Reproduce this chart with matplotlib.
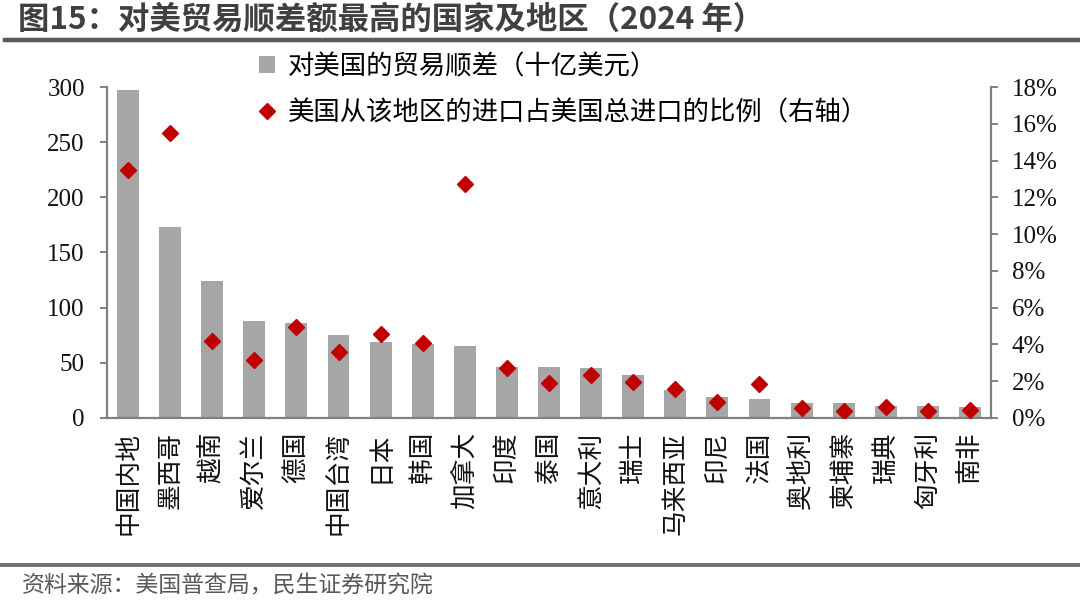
import matplotlib
matplotlib.use("Agg")
import matplotlib.pyplot as plt
from matplotlib.lines import Line2D
from matplotlib.patches import Patch
import numpy as np

categories = ["中国内地", "墨西哥", "越南", "爱尔兰", "德国", "中国台湾", "日本", "韩国", "加拿大",
              "印度", "泰国", "意大利", "瑞士", "马来西亚", "印尼", "法国", "奥地利", "柬埔寨",
              "瑞典", "匈牙利", "南非"]
surplus = [297, 173, 124, 88, 86, 75, 69, 67, 65, 46.5, 46.5, 45, 39, 25.4, 18.7, 17.2,
           13.9, 13.3, 10.6, 10.6, 9.7]
import_share = [13.5, 15.5, 4.2, 3.15, 4.93, 3.57, 4.57, 4.06, 12.7, 2.7, 1.92, 2.35, 1.94,
                1.6, 0.87, 1.85, 0.56, 0.4, 0.58, 0.4, 0.43]
left_ticks = [0, 50, 100, 150, 200, 250, 300]
right_ticks = [0, 2, 4, 6, 8, 10, 12, 14, 16, 18]

title = "图15：对美贸易顺差额最高的国家及地区（2024 年）"
source = "资料来源：美国普查局，民生证券研究院"
legend_bar = "对美国的贸易顺差（十亿美元）"
legend_pt = "美国从该地区的进口占美国总进口的比例（右轴）"

CJK = ["Noto Sans CJK SC", "DejaVu Sans"]
SERIF = ["Liberation Serif", "Noto Sans CJK SC"]

W, H = 1080, 605
fig = plt.figure(figsize=(W / 100, H / 100), dpi=100)

l, r, t, b = 107, 991, 87, 418
ax = fig.add_axes([l / W, 1 - b / H, (r - l) / W, (b - t) / H])
ax2 = ax.twinx()

x = np.arange(len(categories))
ax.bar(x, surplus, width=0.52, color="#a6a6a6", zorder=2)
ax2.plot(x, import_share, linestyle="none", marker="D", markersize=7.8,
         color="#c00000", zorder=3)

ax.set_xlim(-0.5, len(categories) - 0.5)
ax.set_ylim(0, 300)
ax2.set_ylim(0, 18)
ax.set_yticks(left_ticks)
ax2.set_yticks(right_ticks)
ax2.set_yticklabels([f"{v}%" for v in right_ticks])

gray = "#808080"
for a in (ax, ax2):
    for s in a.spines.values():
        s.set_visible(False)
ax.spines["left"].set_visible(True)
ax.spines["bottom"].set_visible(True)
ax2.spines["right"].set_visible(True)
for s in (ax.spines["left"], ax.spines["bottom"], ax2.spines["right"]):
    s.set_color(gray)
    s.set_linewidth(1.6)

ax.tick_params(axis="y", direction="out", length=5, width=1.4, color=gray,
               labelsize=18, pad=11)
ax2.tick_params(axis="y", direction="out", length=5, width=1.4, color=gray,
                labelsize=18, pad=10)
for lab in ax.get_yticklabels() + ax2.get_yticklabels():
    lab.set_fontfamily(SERIF)
    lab.set_color("#111111")

ax.set_xticks(x)
ax.set_xticklabels(categories, fontfamily=CJK, fontsize=18.5, rotation=90,
                   va="top", ha="center", color="#111111")
ax.tick_params(axis="x", length=0, pad=10)

# legend
handles = [Patch(facecolor="#a6a6a6", edgecolor="none"),
           Line2D([], [], linestyle="none", marker="D", markersize=7.8, color="#c00000")]
fig.legend(handles, [legend_bar, legend_pt], loc="upper left",
           bbox_to_anchor=(259 / W, 1 - 53 / H), frameon=False,
           prop={"family": CJK, "size": 19}, handlelength=0.6, handleheight=0.6,
           handletextpad=0.5, labelspacing=0.72, borderaxespad=0, borderpad=0)

# title and lines
fig.text(18 / W, 1 - 20 / H, title, fontsize=22.6, fontweight="bold", fontfamily=CJK,
         color="#404040", va="center", ha="left")
fig.add_artist(Line2D([5 / W, 1.0], [1 - 40 / H, 1 - 40 / H], color="#595959", linewidth=3.2))
fig.add_artist(Line2D([0, 1.0], [1 - 565 / H, 1 - 565 / H], color="#6f6f6f", linewidth=2.8))
fig.text(22 / W, 1 - 586 / H, source, fontsize=16.5, fontfamily=CJK,
         color="#595959", va="center", ha="left")

fig.savefig("out.png", dpi=100)
